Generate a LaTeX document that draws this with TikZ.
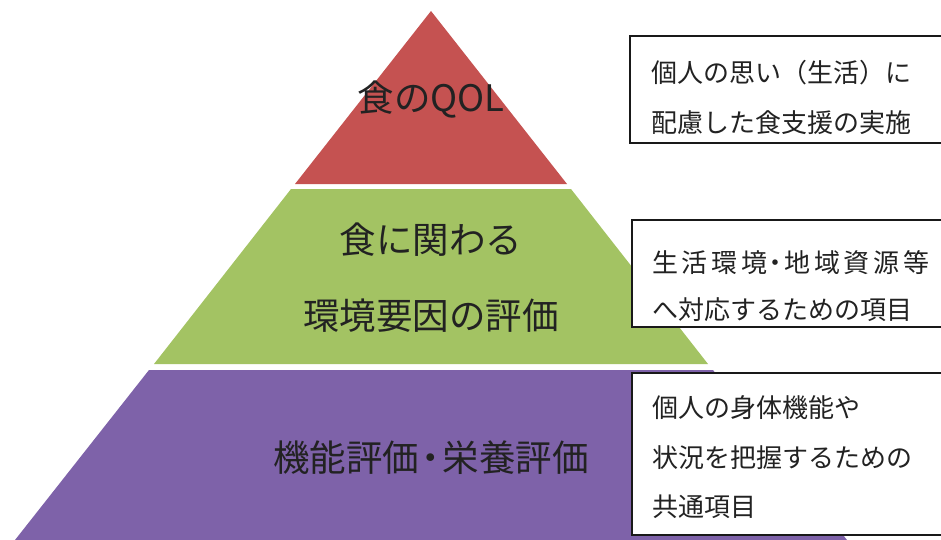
\documentclass[tikz,border=0pt]{standalone}
\usepackage{fontspec}
\setmainfont{Noto Sans CJK JP}
\definecolor{pyrred}{HTML}{C55251}
\definecolor{pyrgreen}{HTML}{A3C363}
\definecolor{pyrpurple}{HTML}{7E62A9}
\definecolor{txt}{HTML}{222222}
\newcommand{\nakaguro}{\kern-0.18em・\kern-0.18em}
\newcommand{\gp}{\kern3.6pt}
\begin{document}
\begin{tikzpicture}[x=1pt,y=-1pt,
  big/.style={font=\fontsize{36.5}{40}\selectfont,text=txt,inner sep=0pt},
  note/.style={draw=black!90,line width=1.3pt,fill=white},
  notetext/.style={font=\fontsize{26}{30}\selectfont,text=txt,anchor=west,inner sep=0pt}]
\useasboundingbox (0,0) rectangle (941,540);
\clip (0,0) rectangle (941,540);
% pyramid tiers
\fill[pyrred] (431,11) -- (567,184) -- (295,184) -- cycle;
\fill[pyrgreen] (291,189) -- (571,189) -- (708,364) -- (154,364) -- cycle;
\fill[pyrpurple] (149,370) -- (713,370) -- (847,540) -- (15,540) -- cycle;
% tier labels
\node[big] (qol) at (431,100) {食のQOL};
\node[big] (env1) at (431,240) {食に関わる};
\node[big] (env2) at (431,316) {環境要因の評価};
\node[big] (func) at (431,458) {機能評価\nakaguro 栄養評価};
% notes
\draw[note] (630,36) rectangle (950,143);
\node[notetext] (n1a) at (651,73) {個人の思い（生活）に};
\node[notetext] (n1b) at (651,123) {配慮した食支援の実施};
\draw[note] (632,220) rectangle (950,327);
\node[notetext] (n2a) at (652,263) {生\gp 活\gp 環\gp 境\kern-0.16em・\kern-0.16em 地\gp 域\gp 資\gp 源\gp 等};
\node[notetext] (n2b) at (652,310) {へ対応するための項目};
\draw[note] (632,373) rectangle (950,535);
\node[notetext] (n3a) at (652,408) {個人の身体機能や};
\node[notetext] (n3b) at (652,458) {状況を把握するための};
\node[notetext] (n3c) at (652,507) {共通項目};
\end{tikzpicture}
\end{document}
